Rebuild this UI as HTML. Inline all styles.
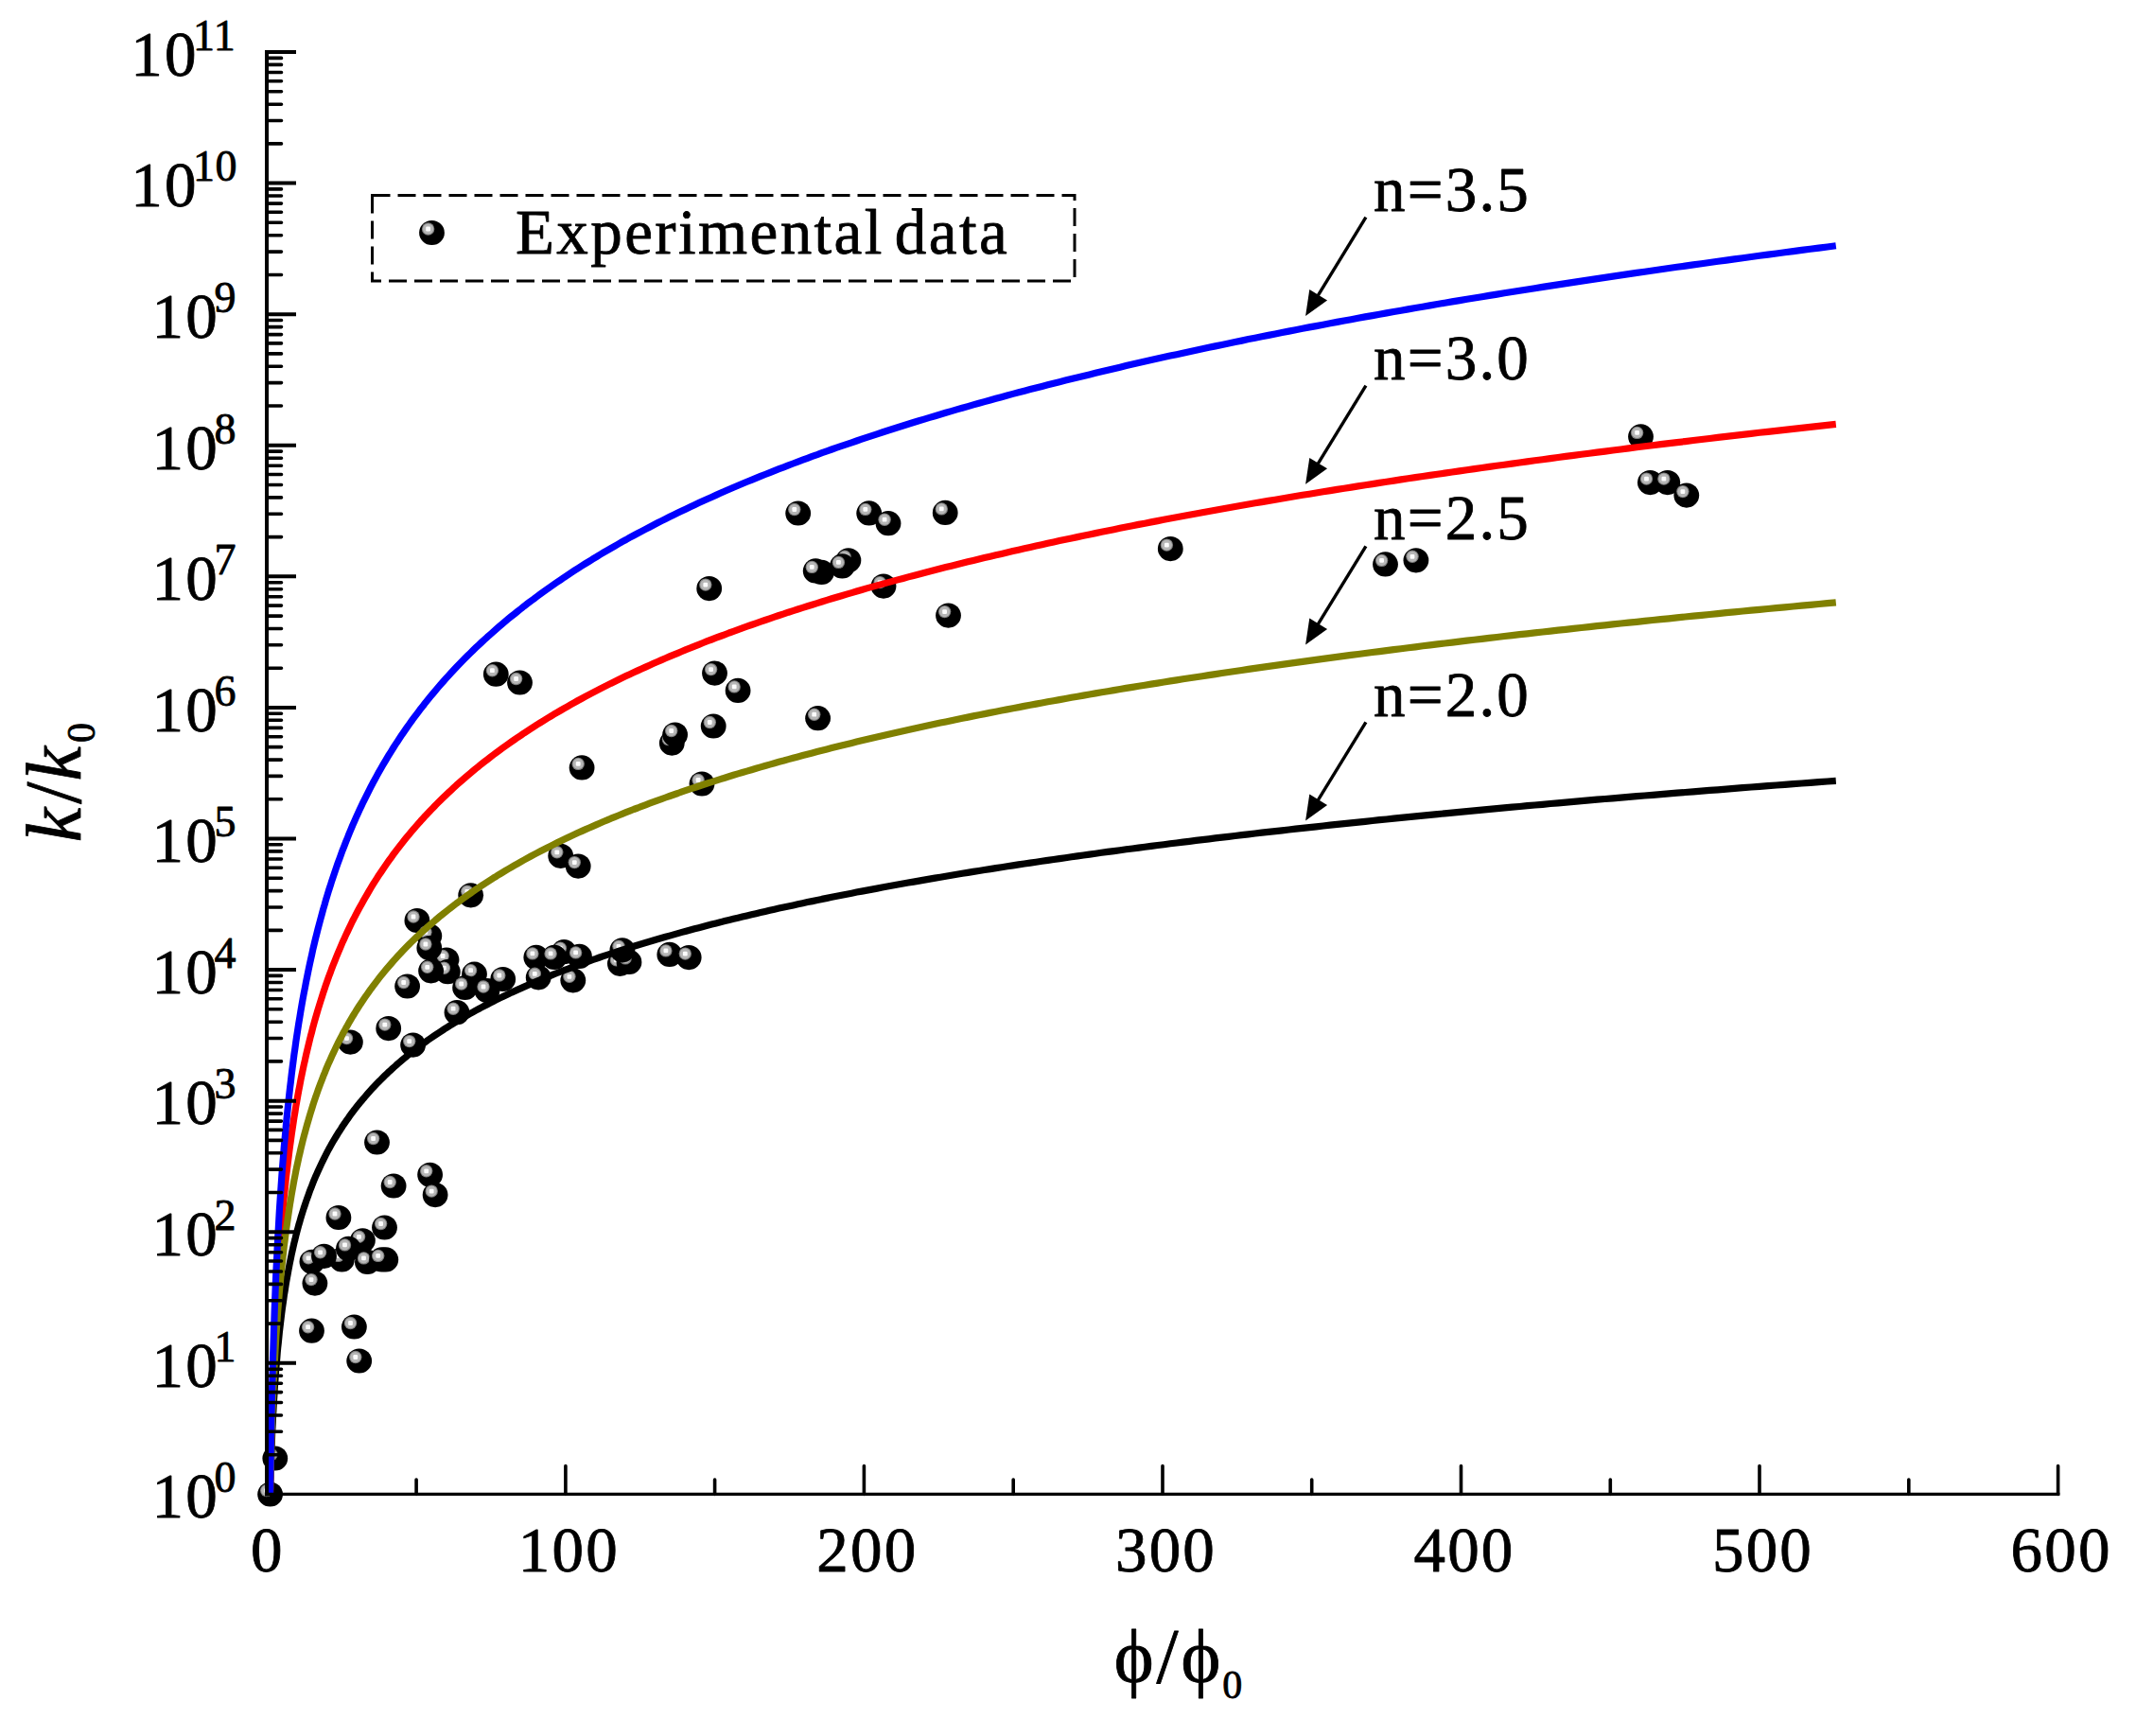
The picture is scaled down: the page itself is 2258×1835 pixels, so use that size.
<!DOCTYPE html>
<html><head><meta charset="utf-8"><title>k/k0 vs phi/phi0</title>
<style>
html,body{margin:0;padding:0;background:#fff;}
body{width:2258px;height:1835px;overflow:hidden;}
svg{display:block;}
text{font-family:"Liberation Serif","DejaVu Serif",serif;fill:#000;stroke:#000;stroke-width:0.8px;stroke-linejoin:round;}
.t{font-size:67px;letter-spacing:2.2px;}
.s{font-size:46px;letter-spacing:0.5px;}
.lab{font-size:83px;}
.sub{font-size:41.5px;}
</style></head><body>
<svg width="2258" height="1835" viewBox="0 0 2258 1835">
<defs>
<g id="b"><ellipse rx="13.4" ry="13.1" fill="#000"/><circle cx="-3.9" cy="-4" r="6.7" fill="#808080"/><circle cx="-3.9" cy="-4" r="5.6" fill="#b6b6b6"/><rect x="-6.3" y="-6.4" width="4.8" height="4.8" rx="1.2" fill="#fcfcfc"/></g>
<path id="ah" d="M0 0 L-26 -11 L-26 11 Z" fill="#000"/>
</defs>
<rect width="2258" height="1835" fill="#fff"/>

<g>
<use href="#b" x="398.5" y="1207.5"/>
<use href="#b" x="454.6" y="1241.8"/>
<use href="#b" x="416.1" y="1253.5"/>
<use href="#b" x="460.1" y="1263.1"/>
<use href="#b" x="357.9" y="1287.0"/>
<use href="#b" x="406.5" y="1297.5"/>
<use href="#b" x="361.4" y="1331.4"/>
<use href="#b" x="329.9" y="1333.8"/>
<use href="#b" x="342.5" y="1327.8"/>
<use href="#b" x="383.4" y="1311.3"/>
<use href="#b" x="368.4" y="1319.9"/>
<use href="#b" x="407.8" y="1331.4"/>
<use href="#b" x="388.4" y="1333.9"/>
<use href="#b" x="403.6" y="1331.4"/>
<use href="#b" x="332.9" y="1356.6"/>
<use href="#b" x="329.5" y="1406.7"/>
<use href="#b" x="374.4" y="1402.5"/>
<use href="#b" x="379.7" y="1438.5"/>
<use href="#b" x="290.8" y="1541.5"/>
<use href="#b" x="285.6" y="1579.5"/>
<use href="#b" x="497.7" y="946.3"/>
<use href="#b" x="440.9" y="973.0"/>
<use href="#b" x="453.8" y="989.3"/>
<use href="#b" x="472.0" y="1014.5"/>
<use href="#b" x="453.8" y="1002.0"/>
<use href="#b" x="473.3" y="1027.2"/>
<use href="#b" x="455.6" y="1026.3"/>
<use href="#b" x="501.5" y="1029.7"/>
<use href="#b" x="491.6" y="1044.0"/>
<use href="#b" x="514.9" y="1047.0"/>
<use href="#b" x="531.7" y="1035.0"/>
<use href="#b" x="430.6" y="1042.5"/>
<use href="#b" x="483.0" y="1070.2"/>
<use href="#b" x="410.7" y="1087.1"/>
<use href="#b" x="436.6" y="1104.6"/>
<use href="#b" x="370.4" y="1101.6"/>
<use href="#b" x="592.7" y="904.8"/>
<use href="#b" x="611.2" y="915.6"/>
<use href="#b" x="596.2" y="1006.2"/>
<use href="#b" x="566.8" y="1011.9"/>
<use href="#b" x="586.0" y="1011.9"/>
<use href="#b" x="612.5" y="1010.9"/>
<use href="#b" x="569.2" y="1033.3"/>
<use href="#b" x="605.8" y="1036.3"/>
<use href="#b" x="655.4" y="1018.8"/>
<use href="#b" x="665.0" y="1016.9"/>
<use href="#b" x="657.9" y="1004.3"/>
<use href="#b" x="707.8" y="1008.9"/>
<use href="#b" x="728.2" y="1012.1"/>
<use href="#b" x="524.3" y="712.7"/>
<use href="#b" x="549.5" y="721.5"/>
<use href="#b" x="755.5" y="711.6"/>
<use href="#b" x="780.1" y="729.9"/>
<use href="#b" x="754.2" y="767.5"/>
<use href="#b" x="710.3" y="785.6"/>
<use href="#b" x="713.6" y="776.5"/>
<use href="#b" x="615.1" y="811.4"/>
<use href="#b" x="742.0" y="828.5"/>
<use href="#b" x="843.7" y="542.5"/>
<use href="#b" x="918.7" y="542.4"/>
<use href="#b" x="939.0" y="553.2"/>
<use href="#b" x="999.2" y="541.9"/>
<use href="#b" x="868.5" y="604.9"/>
<use href="#b" x="862.2" y="603.4"/>
<use href="#b" x="896.9" y="592.3"/>
<use href="#b" x="890.3" y="598.4"/>
<use href="#b" x="934.0" y="619.6"/>
<use href="#b" x="1002.5" y="650.6"/>
<use href="#b" x="749.7" y="622.1"/>
<use href="#b" x="864.6" y="759.2"/>
<use href="#b" x="1237.3" y="580.1"/>
<use href="#b" x="1464.5" y="596.4"/>
<use href="#b" x="1496.9" y="592.3"/>
<use href="#b" x="1734.5" y="461.4"/>
<use href="#b" x="1744.4" y="510.1"/>
<use href="#b" x="1762.8" y="510.1"/>
<use href="#b" x="1782.8" y="523.6"/>
</g>
<path d="M285.5 1579.4 L285.5 1579.3 L285.5 1578.9 L285.5 1578.1 L285.5 1576.9 L285.6 1575.4 L285.6 1573.4 L285.7 1571.1 L285.8 1568.4 L285.8 1565.3 L286.0 1561.9 L286.1 1558.1 L286.2 1554.1 L286.3 1549.8 L286.5 1545.2 L286.7 1540.4 L286.8 1535.4 L287.0 1530.3 L287.3 1525.0 L287.5 1519.6 L287.7 1514.1 L288.0 1508.5 L288.3 1502.9 L288.5 1497.2 L288.9 1491.5 L289.2 1485.8 L289.5 1480.0 L289.9 1474.3 L290.2 1468.6 L290.6 1462.9 L291.0 1457.3 L291.4 1451.7 L291.8 1446.1 L292.3 1440.6 L292.8 1435.1 L293.2 1429.7 L293.7 1424.4 L294.3 1419.1 L294.8 1413.8 L295.3 1408.7 L295.9 1403.5 L296.5 1398.5 L297.1 1393.5 L297.7 1388.6 L298.3 1383.7 L299.0 1378.9 L299.7 1374.2 L300.3 1369.5 L301.1 1364.9 L301.8 1360.3 L302.5 1355.8 L303.3 1351.4 L304.1 1347.0 L304.9 1342.7 L305.7 1338.4 L306.5 1334.2 L307.4 1330.0 L308.2 1325.9 L309.1 1321.9 L310.0 1317.9 L310.9 1313.9 L311.9 1310.0 L312.8 1306.1 L313.8 1302.3 L314.8 1298.6 L315.8 1294.9 L316.9 1291.2 L317.9 1287.6 L319.0 1284.0 L320.1 1280.5 L321.2 1277.0 L322.4 1273.5 L323.5 1270.1 L324.7 1266.7 L325.9 1263.4 L327.1 1260.1 L328.3 1256.8 L329.6 1253.6 L330.8 1250.4 L332.1 1247.2 L333.4 1244.1 L334.8 1241.0 L336.1 1238.0 L337.5 1234.9 L338.9 1231.9 L340.3 1229.0 L341.7 1226.1 L343.2 1223.2 L344.6 1220.3 L346.1 1217.4 L347.6 1214.6 L349.2 1211.8 L350.7 1209.1 L352.3 1206.3 L353.9 1203.6 L355.5 1201.0 L357.1 1198.3 L358.8 1195.7 L360.5 1193.1 L362.1 1190.5 L363.9 1187.9 L365.6 1185.4 L367.4 1182.9 L369.1 1180.4 L370.9 1177.9 L372.7 1175.5 L374.6 1173.1 L376.4 1170.7 L378.3 1168.3 L380.2 1165.9 L382.2 1163.6 L384.1 1161.3 L386.1 1159.0 L388.1 1156.7 L390.1 1154.4 L392.1 1152.2 L394.1 1149.9 L396.2 1147.7 L398.3 1145.5 L400.4 1143.4 L402.6 1141.2 L404.7 1139.1 L406.9 1136.9 L409.1 1134.8 L411.3 1132.7 L413.6 1130.7 L415.8 1128.6 L418.1 1126.6 L420.4 1124.5 L422.8 1122.5 L425.1 1120.5 L427.5 1118.5 L429.9 1116.6 L432.3 1114.6 L434.7 1112.7 L437.2 1110.7 L439.7 1108.8 L442.2 1106.9 L444.7 1105.0 L447.3 1103.2 L449.8 1101.3 L452.4 1099.4 L455.0 1097.6 L457.7 1095.8 L460.3 1094.0 L463.0 1092.2 L465.7 1090.4 L468.5 1088.6 L471.2 1086.8 L474.0 1085.1 L476.8 1083.3 L479.6 1081.6 L482.4 1079.9 L485.3 1078.2 L488.2 1076.5 L491.1 1074.8 L494.0 1073.1 L497.0 1071.4 L499.9 1069.8 L502.9 1068.1 L506.0 1066.5 L509.0 1064.9 L512.1 1063.3 L515.2 1061.7 L518.3 1060.1 L521.4 1058.5 L524.6 1056.9 L527.7 1055.3 L531.0 1053.8 L534.2 1052.2 L537.4 1050.7 L540.7 1049.1 L544.0 1047.6 L547.3 1046.1 L550.7 1044.6 L554.0 1043.1 L557.4 1041.6 L560.8 1040.1 L564.3 1038.6 L567.7 1037.2 L571.2 1035.7 L574.7 1034.3 L578.2 1032.8 L581.8 1031.4 L585.3 1029.9 L588.9 1028.5 L592.6 1027.1 L596.2 1025.7 L599.9 1024.3 L603.6 1022.9 L607.3 1021.5 L611.0 1020.2 L614.8 1018.8 L618.6 1017.4 L622.4 1016.1 L626.2 1014.7 L630.1 1013.4 L633.9 1012.0 L637.8 1010.7 L641.8 1009.4 L645.7 1008.1 L649.7 1006.8 L653.7 1005.5 L657.7 1004.2 L661.8 1002.9 L665.8 1001.6 L669.9 1000.3 L674.1 999.0 L678.2 997.8 L682.4 996.5 L686.6 995.3 L690.8 994.0 L695.0 992.8 L699.3 991.5 L703.6 990.3 L707.9 989.1 L712.2 987.9 L716.6 986.6 L720.9 985.4 L725.3 984.2 L729.8 983.0 L734.2 981.8 L738.7 980.7 L743.2 979.5 L747.7 978.3 L752.3 977.1 L756.9 976.0 L761.5 974.8 L766.1 973.6 L770.7 972.5 L775.4 971.3 L780.1 970.2 L784.8 969.1 L789.6 967.9 L794.4 966.8 L799.2 965.7 L804.0 964.6 L808.8 963.5 L813.7 962.3 L818.6 961.2 L823.5 960.1 L828.5 959.0 L833.4 958.0 L838.4 956.9 L843.4 955.8 L848.5 954.7 L853.6 953.6 L858.6 952.6 L863.8 951.5 L868.9 950.4 L874.1 949.4 L879.3 948.3 L884.5 947.3 L889.7 946.2 L895.0 945.2 L900.3 944.2 L905.6 943.1 L910.9 942.1 L916.3 941.1 L921.7 940.1 L927.1 939.1 L932.6 938.0 L938.0 937.0 L943.5 936.0 L949.0 935.0 L954.6 934.0 L960.1 933.0 L965.7 932.1 L971.4 931.1 L977.0 930.1 L982.7 929.1 L988.4 928.1 L994.1 927.2 L999.8 926.2 L1005.6 925.2 L1011.4 924.3 L1017.2 923.3 L1023.1 922.4 L1028.9 921.4 L1034.8 920.5 L1040.7 919.5 L1046.7 918.6 L1052.7 917.6 L1058.7 916.7 L1064.7 915.8 L1070.7 914.9 L1076.8 913.9 L1082.9 913.0 L1089.0 912.1 L1095.2 911.2 L1101.4 910.3 L1107.6 909.4 L1113.8 908.5 L1120.0 907.6 L1126.3 906.7 L1132.6 905.8 L1139.0 904.9 L1145.3 904.0 L1151.7 903.1 L1158.1 902.2 L1164.5 901.3 L1171.0 900.4 L1177.5 899.6 L1184.0 898.7 L1190.5 897.8 L1197.1 897.0 L1203.7 896.1 L1210.3 895.2 L1216.9 894.4 L1223.6 893.5 L1230.3 892.7 L1237.0 891.8 L1243.8 891.0 L1250.5 890.1 L1257.3 889.3 L1264.2 888.4 L1271.0 887.6 L1277.9 886.8 L1284.8 885.9 L1291.7 885.1 L1298.7 884.3 L1305.6 883.5 L1312.6 882.6 L1319.7 881.8 L1326.7 881.0 L1333.8 880.2 L1340.9 879.4 L1348.1 878.6 L1355.2 877.8 L1362.4 877.0 L1369.6 876.2 L1376.9 875.4 L1384.1 874.6 L1391.4 873.8 L1398.7 873.0 L1406.1 872.2 L1413.5 871.4 L1420.9 870.6 L1428.3 869.8 L1435.7 869.1 L1443.2 868.3 L1450.7 867.5 L1458.3 866.7 L1465.8 866.0 L1473.4 865.2 L1481.0 864.4 L1488.6 863.7 L1496.3 862.9 L1504.0 862.1 L1511.7 861.4 L1519.5 860.6 L1527.2 859.9 L1535.0 859.1 L1542.8 858.4 L1550.7 857.6 L1558.6 856.9 L1566.5 856.1 L1574.4 855.4 L1582.4 854.7 L1590.3 853.9 L1598.4 853.2 L1606.4 852.5 L1614.5 851.7 L1622.5 851.0 L1630.7 850.3 L1638.8 849.5 L1647.0 848.8 L1655.2 848.1 L1663.4 847.4 L1671.6 846.7 L1679.9 845.9 L1688.2 845.2 L1696.6 844.5 L1704.9 843.8 L1713.3 843.1 L1721.7 842.4 L1730.2 841.7 L1738.6 841.0 L1747.1 840.3 L1755.6 839.6 L1764.2 838.9 L1772.8 838.2 L1781.4 837.5 L1790.0 836.8 L1798.6 836.1 L1807.3 835.4 L1816.0 834.8 L1824.8 834.1 L1833.5 833.4 L1842.3 832.7 L1851.1 832.0 L1860.0 831.4 L1868.9 830.7 L1877.8 830.0 L1886.7 829.3 L1895.6 828.7 L1904.6 828.0 L1913.6 827.3 L1922.7 826.7 L1931.7 826.0 L1940.8 825.3" fill="none" stroke="#000" stroke-width="7.2" stroke-linejoin="round"/>
<path d="M285.5 1579.4 L285.5 1579.2 L285.5 1578.6 L285.5 1577.4 L285.5 1575.7 L285.6 1573.3 L285.6 1570.4 L285.7 1566.9 L285.8 1562.9 L285.8 1558.2 L286.0 1553.1 L286.1 1547.5 L286.2 1541.4 L286.3 1534.9 L286.5 1528.1 L286.7 1520.9 L286.8 1513.4 L287.0 1505.7 L287.3 1497.8 L287.5 1489.7 L287.7 1481.4 L288.0 1473.1 L288.3 1464.6 L288.5 1456.1 L288.9 1447.5 L289.2 1438.9 L289.5 1430.4 L289.9 1421.8 L290.2 1413.2 L290.6 1404.7 L291.0 1396.2 L291.4 1387.8 L291.8 1379.5 L292.3 1371.2 L292.8 1363.0 L293.2 1354.9 L293.7 1346.9 L294.3 1338.9 L294.8 1331.1 L295.3 1323.3 L295.9 1315.6 L296.5 1308.0 L297.1 1300.6 L297.7 1293.2 L298.3 1285.9 L299.0 1278.7 L299.7 1271.6 L300.3 1264.5 L301.1 1257.6 L301.8 1250.8 L302.5 1244.0 L303.3 1237.4 L304.1 1230.8 L304.9 1224.3 L305.7 1217.9 L306.5 1211.6 L307.4 1205.3 L308.2 1199.2 L309.1 1193.1 L310.0 1187.1 L310.9 1181.2 L311.9 1175.3 L312.8 1169.5 L313.8 1163.8 L314.8 1158.2 L315.8 1152.6 L316.9 1147.1 L317.9 1141.7 L319.0 1136.3 L320.1 1131.0 L321.2 1125.7 L322.4 1120.6 L323.5 1115.4 L324.7 1110.4 L325.9 1105.4 L327.1 1100.4 L328.3 1095.5 L329.6 1090.7 L330.8 1085.9 L332.1 1081.1 L333.4 1076.5 L334.8 1071.8 L336.1 1067.2 L337.5 1062.7 L338.9 1058.2 L340.3 1053.8 L341.7 1049.4 L343.2 1045.0 L344.6 1040.7 L346.1 1036.5 L347.6 1032.2 L349.2 1028.1 L350.7 1023.9 L352.3 1019.8 L353.9 1015.8 L355.5 1011.7 L357.1 1007.8 L358.8 1003.8 L360.5 999.9 L362.1 996.0 L363.9 992.2 L365.6 988.4 L367.4 984.6 L369.1 980.9 L370.9 977.2 L372.7 973.5 L374.6 969.9 L376.4 966.3 L378.3 962.7 L380.2 959.2 L382.2 955.7 L384.1 952.2 L386.1 948.7 L388.1 945.3 L390.1 941.9 L392.1 938.5 L394.1 935.2 L396.2 931.9 L398.3 928.6 L400.4 925.3 L402.6 922.1 L404.7 918.9 L406.9 915.7 L409.1 912.5 L411.3 909.4 L413.6 906.3 L415.8 903.2 L418.1 900.1 L420.4 897.1 L422.8 894.1 L425.1 891.1 L427.5 888.1 L429.9 885.1 L432.3 882.2 L434.7 879.3 L437.2 876.4 L439.7 873.5 L442.2 870.7 L444.7 867.8 L447.3 865.0 L449.8 862.2 L452.4 859.5 L455.0 856.7 L457.7 854.0 L460.3 851.2 L463.0 848.5 L465.7 845.9 L468.5 843.2 L471.2 840.6 L474.0 837.9 L476.8 835.3 L479.6 832.7 L482.4 830.1 L485.3 827.6 L488.2 825.0 L491.1 822.5 L494.0 820.0 L497.0 817.5 L499.9 815.0 L502.9 812.5 L506.0 810.1 L509.0 807.6 L512.1 805.2 L515.2 802.8 L518.3 800.4 L521.4 798.0 L524.6 795.6 L527.7 793.3 L531.0 790.9 L534.2 788.6 L537.4 786.3 L540.7 784.0 L544.0 781.7 L547.3 779.4 L550.7 777.2 L554.0 774.9 L557.4 772.7 L560.8 770.5 L564.3 768.2 L567.7 766.0 L571.2 763.9 L574.7 761.7 L578.2 759.5 L581.8 757.4 L585.3 755.2 L588.9 753.1 L592.6 751.0 L596.2 748.9 L599.9 746.8 L603.6 744.7 L607.3 742.6 L611.0 740.5 L614.8 738.5 L618.6 736.4 L622.4 734.4 L626.2 732.4 L630.1 730.4 L633.9 728.4 L637.8 726.4 L641.8 724.4 L645.7 722.4 L649.7 720.5 L653.7 718.5 L657.7 716.6 L661.8 714.6 L665.8 712.7 L669.9 710.8 L674.1 708.9 L678.2 707.0 L682.4 705.1 L686.6 703.2 L690.8 701.3 L695.0 699.5 L699.3 697.6 L703.6 695.8 L707.9 693.9 L712.2 692.1 L716.6 690.3 L720.9 688.5 L725.3 686.6 L729.8 684.9 L734.2 683.1 L738.7 681.3 L743.2 679.5 L747.7 677.7 L752.3 676.0 L756.9 674.2 L761.5 672.5 L766.1 670.8 L770.7 669.0 L775.4 667.3 L780.1 665.6 L784.8 663.9 L789.6 662.2 L794.4 660.5 L799.2 658.8 L804.0 657.1 L808.8 655.5 L813.7 653.8 L818.6 652.2 L823.5 650.5 L828.5 648.9 L833.4 647.2 L838.4 645.6 L843.4 644.0 L848.5 642.4 L853.6 640.8 L858.6 639.2 L863.8 637.6 L868.9 636.0 L874.1 634.4 L879.3 632.8 L884.5 631.2 L889.7 629.7 L895.0 628.1 L900.3 626.6 L905.6 625.0 L910.9 623.5 L916.3 621.9 L921.7 620.4 L927.1 618.9 L932.6 617.4 L938.0 615.9 L943.5 614.4 L949.0 612.9 L954.6 611.4 L960.1 609.9 L965.7 608.4 L971.4 606.9 L977.0 605.4 L982.7 604.0 L988.4 602.5 L994.1 601.0 L999.8 599.6 L1005.6 598.2 L1011.4 596.7 L1017.2 595.3 L1023.1 593.8 L1028.9 592.4 L1034.8 591.0 L1040.7 589.6 L1046.7 588.2 L1052.7 586.8 L1058.7 585.4 L1064.7 584.0 L1070.7 582.6 L1076.8 581.2 L1082.9 579.8 L1089.0 578.4 L1095.2 577.1 L1101.4 575.7 L1107.6 574.3 L1113.8 573.0 L1120.0 571.6 L1126.3 570.3 L1132.6 568.9 L1139.0 567.6 L1145.3 566.3 L1151.7 564.9 L1158.1 563.6 L1164.5 562.3 L1171.0 561.0 L1177.5 559.7 L1184.0 558.3 L1190.5 557.0 L1197.1 555.7 L1203.7 554.4 L1210.3 553.2 L1216.9 551.9 L1223.6 550.6 L1230.3 549.3 L1237.0 548.0 L1243.8 546.8 L1250.5 545.5 L1257.3 544.2 L1264.2 543.0 L1271.0 541.7 L1277.9 540.5 L1284.8 539.2 L1291.7 538.0 L1298.7 536.7 L1305.6 535.5 L1312.6 534.3 L1319.7 533.0 L1326.7 531.8 L1333.8 530.6 L1340.9 529.4 L1348.1 528.2 L1355.2 527.0 L1362.4 525.7 L1369.6 524.5 L1376.9 523.3 L1384.1 522.2 L1391.4 521.0 L1398.7 519.8 L1406.1 518.6 L1413.5 517.4 L1420.9 516.2 L1428.3 515.1 L1435.7 513.9 L1443.2 512.7 L1450.7 511.6 L1458.3 510.4 L1465.8 509.2 L1473.4 508.1 L1481.0 506.9 L1488.6 505.8 L1496.3 504.6 L1504.0 503.5 L1511.7 502.4 L1519.5 501.2 L1527.2 500.1 L1535.0 499.0 L1542.8 497.9 L1550.7 496.7 L1558.6 495.6 L1566.5 494.5 L1574.4 493.4 L1582.4 492.3 L1590.3 491.2 L1598.4 490.1 L1606.4 489.0 L1614.5 487.9 L1622.5 486.8 L1630.7 485.7 L1638.8 484.6 L1647.0 483.5 L1655.2 482.4 L1663.4 481.4 L1671.6 480.3 L1679.9 479.2 L1688.2 478.1 L1696.6 477.1 L1704.9 476.0 L1713.3 475.0 L1721.7 473.9 L1730.2 472.8 L1738.6 471.8 L1747.1 470.7 L1755.6 469.7 L1764.2 468.6 L1772.8 467.6 L1781.4 466.6 L1790.0 465.5 L1798.6 464.5 L1807.3 463.5 L1816.0 462.4 L1824.8 461.4 L1833.5 460.4 L1842.3 459.4 L1851.1 458.4 L1860.0 457.3 L1868.9 456.3 L1877.8 455.3 L1886.7 454.3 L1895.6 453.3 L1904.6 452.3 L1913.6 451.3 L1922.7 450.3 L1931.7 449.3 L1940.8 448.3" fill="none" stroke="#f00" stroke-width="7.2" stroke-linejoin="round"/>
<path d="M285.5 1579.4 L285.5 1579.3 L285.5 1578.7 L285.5 1577.7 L285.5 1576.3 L285.6 1574.4 L285.6 1571.9 L285.7 1569.0 L285.8 1565.6 L285.8 1561.8 L286.0 1557.5 L286.1 1552.8 L286.2 1547.7 L286.3 1542.3 L286.5 1536.6 L286.7 1530.7 L286.8 1524.4 L287.0 1518.0 L287.3 1511.4 L287.5 1504.6 L287.7 1497.8 L288.0 1490.8 L288.3 1483.7 L288.5 1476.6 L288.9 1469.5 L289.2 1462.4 L289.5 1455.2 L289.9 1448.0 L290.2 1440.9 L290.6 1433.8 L291.0 1426.8 L291.4 1419.8 L291.8 1412.8 L292.3 1405.9 L292.8 1399.1 L293.2 1392.3 L293.7 1385.6 L294.3 1379.0 L294.8 1372.5 L295.3 1366.0 L295.9 1359.6 L296.5 1353.3 L297.1 1347.0 L297.7 1340.9 L298.3 1334.8 L299.0 1328.8 L299.7 1322.9 L300.3 1317.0 L301.1 1311.2 L301.8 1305.5 L302.5 1299.9 L303.3 1294.4 L304.1 1288.9 L304.9 1283.5 L305.7 1278.1 L306.5 1272.9 L307.4 1267.7 L308.2 1262.5 L309.1 1257.5 L310.0 1252.5 L310.9 1247.5 L311.9 1242.6 L312.8 1237.8 L313.8 1233.1 L314.8 1228.4 L315.8 1223.7 L316.9 1219.1 L317.9 1214.6 L319.0 1210.1 L320.1 1205.7 L321.2 1201.3 L322.4 1197.0 L323.5 1192.8 L324.7 1188.5 L325.9 1184.4 L327.1 1180.2 L328.3 1176.2 L329.6 1172.1 L330.8 1168.1 L332.1 1164.2 L333.4 1160.3 L334.8 1156.4 L336.1 1152.6 L337.5 1148.8 L338.9 1145.1 L340.3 1141.4 L341.7 1137.7 L343.2 1134.1 L344.6 1130.5 L346.1 1126.9 L347.6 1123.4 L349.2 1119.9 L350.7 1116.5 L352.3 1113.1 L353.9 1109.7 L355.5 1106.3 L357.1 1103.0 L358.8 1099.7 L360.5 1096.5 L362.1 1093.3 L363.9 1090.1 L365.6 1086.9 L367.4 1083.8 L369.1 1080.6 L370.9 1077.6 L372.7 1074.5 L374.6 1071.5 L376.4 1068.5 L378.3 1065.5 L380.2 1062.5 L382.2 1059.6 L384.1 1056.7 L386.1 1053.8 L388.1 1051.0 L390.1 1048.2 L392.1 1045.3 L394.1 1042.6 L396.2 1039.8 L398.3 1037.1 L400.4 1034.3 L402.6 1031.6 L404.7 1029.0 L406.9 1026.3 L409.1 1023.7 L411.3 1021.1 L413.6 1018.5 L415.8 1015.9 L418.1 1013.3 L420.4 1010.8 L422.8 1008.3 L425.1 1005.8 L427.5 1003.3 L429.9 1000.8 L432.3 998.4 L434.7 996.0 L437.2 993.6 L439.7 991.2 L442.2 988.8 L444.7 986.4 L447.3 984.1 L449.8 981.8 L452.4 979.4 L455.0 977.2 L457.7 974.9 L460.3 972.6 L463.0 970.4 L465.7 968.1 L468.5 965.9 L471.2 963.7 L474.0 961.5 L476.8 959.3 L479.6 957.2 L482.4 955.0 L485.3 952.9 L488.2 950.7 L491.1 948.6 L494.0 946.5 L497.0 944.5 L499.9 942.4 L502.9 940.3 L506.0 938.3 L509.0 936.3 L512.1 934.2 L515.2 932.2 L518.3 930.2 L521.4 928.2 L524.6 926.3 L527.7 924.3 L531.0 922.3 L534.2 920.4 L537.4 918.5 L540.7 916.6 L544.0 914.7 L547.3 912.8 L550.7 910.9 L554.0 909.0 L557.4 907.1 L560.8 905.3 L564.3 903.4 L567.7 901.6 L571.2 899.8 L574.7 898.0 L578.2 896.2 L581.8 894.4 L585.3 892.6 L588.9 890.8 L592.6 889.0 L596.2 887.3 L599.9 885.5 L603.6 883.8 L607.3 882.1 L611.0 880.3 L614.8 878.6 L618.6 876.9 L622.4 875.2 L626.2 873.6 L630.1 871.9 L633.9 870.2 L637.8 868.5 L641.8 866.9 L645.7 865.2 L649.7 863.6 L653.7 862.0 L657.7 860.4 L661.8 858.7 L665.8 857.1 L669.9 855.5 L674.1 854.0 L678.2 852.4 L682.4 850.8 L686.6 849.2 L690.8 847.7 L695.0 846.1 L699.3 844.6 L703.6 843.0 L707.9 841.5 L712.2 840.0 L716.6 838.5 L720.9 836.9 L725.3 835.4 L729.8 833.9 L734.2 832.5 L738.7 831.0 L743.2 829.5 L747.7 828.0 L752.3 826.6 L756.9 825.1 L761.5 823.6 L766.1 822.2 L770.7 820.8 L775.4 819.3 L780.1 817.9 L784.8 816.5 L789.6 815.1 L794.4 813.7 L799.2 812.3 L804.0 810.9 L808.8 809.5 L813.7 808.1 L818.6 806.7 L823.5 805.3 L828.5 804.0 L833.4 802.6 L838.4 801.2 L843.4 799.9 L848.5 798.5 L853.6 797.2 L858.6 795.9 L863.8 794.5 L868.9 793.2 L874.1 791.9 L879.3 790.6 L884.5 789.3 L889.7 788.0 L895.0 786.7 L900.3 785.4 L905.6 784.1 L910.9 782.8 L916.3 781.5 L921.7 780.2 L927.1 779.0 L932.6 777.7 L938.0 776.4 L943.5 775.2 L949.0 773.9 L954.6 772.7 L960.1 771.5 L965.7 770.2 L971.4 769.0 L977.0 767.8 L982.7 766.5 L988.4 765.3 L994.1 764.1 L999.8 762.9 L1005.6 761.7 L1011.4 760.5 L1017.2 759.3 L1023.1 758.1 L1028.9 756.9 L1034.8 755.7 L1040.7 754.6 L1046.7 753.4 L1052.7 752.2 L1058.7 751.0 L1064.7 749.9 L1070.7 748.7 L1076.8 747.6 L1082.9 746.4 L1089.0 745.3 L1095.2 744.1 L1101.4 743.0 L1107.6 741.8 L1113.8 740.7 L1120.0 739.6 L1126.3 738.5 L1132.6 737.3 L1139.0 736.2 L1145.3 735.1 L1151.7 734.0 L1158.1 732.9 L1164.5 731.8 L1171.0 730.7 L1177.5 729.6 L1184.0 728.5 L1190.5 727.4 L1197.1 726.4 L1203.7 725.3 L1210.3 724.2 L1216.9 723.1 L1223.6 722.1 L1230.3 721.0 L1237.0 719.9 L1243.8 718.9 L1250.5 717.8 L1257.3 716.8 L1264.2 715.7 L1271.0 714.7 L1277.9 713.6 L1284.8 712.6 L1291.7 711.5 L1298.7 710.5 L1305.6 709.5 L1312.6 708.5 L1319.7 707.4 L1326.7 706.4 L1333.8 705.4 L1340.9 704.4 L1348.1 703.4 L1355.2 702.4 L1362.4 701.4 L1369.6 700.4 L1376.9 699.4 L1384.1 698.4 L1391.4 697.4 L1398.7 696.4 L1406.1 695.4 L1413.5 694.4 L1420.9 693.4 L1428.3 692.4 L1435.7 691.5 L1443.2 690.5 L1450.7 689.5 L1458.3 688.6 L1465.8 687.6 L1473.4 686.6 L1481.0 685.7 L1488.6 684.7 L1496.3 683.8 L1504.0 682.8 L1511.7 681.9 L1519.5 680.9 L1527.2 680.0 L1535.0 679.1 L1542.8 678.1 L1550.7 677.2 L1558.6 676.2 L1566.5 675.3 L1574.4 674.4 L1582.4 673.5 L1590.3 672.5 L1598.4 671.6 L1606.4 670.7 L1614.5 669.8 L1622.5 668.9 L1630.7 668.0 L1638.8 667.1 L1647.0 666.2 L1655.2 665.3 L1663.4 664.4 L1671.6 663.5 L1679.9 662.6 L1688.2 661.7 L1696.6 660.8 L1704.9 659.9 L1713.3 659.0 L1721.7 658.1 L1730.2 657.3 L1738.6 656.4 L1747.1 655.5 L1755.6 654.6 L1764.2 653.8 L1772.8 652.9 L1781.4 652.0 L1790.0 651.2 L1798.6 650.3 L1807.3 649.5 L1816.0 648.6 L1824.8 647.7 L1833.5 646.9 L1842.3 646.0 L1851.1 645.2 L1860.0 644.3 L1868.9 643.5 L1877.8 642.7 L1886.7 641.8 L1895.6 641.0 L1904.6 640.1 L1913.6 639.3 L1922.7 638.5 L1931.7 637.7 L1940.8 636.8" fill="none" stroke="#808000" stroke-width="7.2" stroke-linejoin="round"/>
<path d="M285.5 1579.4 L285.5 1579.2 L285.5 1578.4 L285.5 1577.1 L285.5 1575.0 L285.6 1572.3 L285.6 1568.9 L285.7 1564.8 L285.8 1560.1 L285.8 1554.7 L286.0 1548.7 L286.1 1542.2 L286.2 1535.1 L286.3 1527.5 L286.5 1519.5 L286.7 1511.2 L286.8 1502.5 L287.0 1493.5 L287.3 1484.2 L287.5 1474.7 L287.7 1465.1 L288.0 1455.4 L288.3 1445.5 L288.5 1435.5 L288.9 1425.5 L289.2 1415.5 L289.5 1405.5 L289.9 1395.5 L290.2 1385.5 L290.6 1375.6 L291.0 1365.7 L291.4 1355.9 L291.8 1346.2 L292.3 1336.5 L292.8 1327.0 L293.2 1317.5 L293.7 1308.1 L294.3 1298.8 L294.8 1289.7 L295.3 1280.6 L295.9 1271.7 L296.5 1262.8 L297.1 1254.1 L297.7 1245.5 L298.3 1236.9 L299.0 1228.5 L299.7 1220.2 L300.3 1212.1 L301.1 1204.0 L301.8 1196.0 L302.5 1188.1 L303.3 1180.3 L304.1 1172.7 L304.9 1165.1 L305.7 1157.6 L306.5 1150.3 L307.4 1143.0 L308.2 1135.8 L309.1 1128.7 L310.0 1121.7 L310.9 1114.8 L311.9 1107.9 L312.8 1101.2 L313.8 1094.5 L314.8 1088.0 L315.8 1081.5 L316.9 1075.0 L317.9 1068.7 L319.0 1062.4 L320.1 1056.2 L321.2 1050.1 L322.4 1044.1 L323.5 1038.1 L324.7 1032.2 L325.9 1026.3 L327.1 1020.6 L328.3 1014.9 L329.6 1009.2 L330.8 1003.6 L332.1 998.1 L333.4 992.6 L334.8 987.2 L336.1 981.9 L337.5 976.6 L338.9 971.4 L340.3 966.2 L341.7 961.0 L343.2 956.0 L344.6 950.9 L346.1 946.0 L347.6 941.0 L349.2 936.2 L350.7 931.3 L352.3 926.6 L353.9 921.8 L355.5 917.1 L357.1 912.5 L358.8 907.9 L360.5 903.3 L362.1 898.8 L363.9 894.3 L365.6 889.9 L367.4 885.5 L369.1 881.1 L370.9 876.8 L372.7 872.5 L374.6 868.3 L376.4 864.1 L378.3 859.9 L380.2 855.8 L382.2 851.7 L384.1 847.6 L386.1 843.6 L388.1 839.6 L390.1 835.7 L392.1 831.7 L394.1 827.8 L396.2 824.0 L398.3 820.1 L400.4 816.3 L402.6 812.5 L404.7 808.8 L406.9 805.1 L409.1 801.4 L411.3 797.7 L413.6 794.1 L415.8 790.5 L418.1 786.9 L420.4 783.4 L422.8 779.8 L425.1 776.3 L427.5 772.9 L429.9 769.4 L432.3 766.0 L434.7 762.6 L437.2 759.2 L439.7 755.9 L442.2 752.6 L444.7 749.2 L447.3 746.0 L449.8 742.7 L452.4 739.5 L455.0 736.3 L457.7 733.1 L460.3 729.9 L463.0 726.7 L465.7 723.6 L468.5 720.5 L471.2 717.4 L474.0 714.3 L476.8 711.3 L479.6 708.3 L482.4 705.3 L485.3 702.3 L488.2 699.3 L491.1 696.3 L494.0 693.4 L497.0 690.5 L499.9 687.6 L502.9 684.7 L506.0 681.8 L509.0 679.0 L512.1 676.2 L515.2 673.3 L518.3 670.6 L521.4 667.8 L524.6 665.0 L527.7 662.3 L531.0 659.5 L534.2 656.8 L537.4 654.1 L540.7 651.4 L544.0 648.8 L547.3 646.1 L550.7 643.5 L554.0 640.8 L557.4 638.2 L560.8 635.6 L564.3 633.1 L567.7 630.5 L571.2 627.9 L574.7 625.4 L578.2 622.9 L581.8 620.4 L585.3 617.9 L588.9 615.4 L592.6 612.9 L596.2 610.4 L599.9 608.0 L603.6 605.6 L607.3 603.1 L611.0 600.7 L614.8 598.3 L618.6 595.9 L622.4 593.6 L626.2 591.2 L630.1 588.9 L633.9 586.5 L637.8 584.2 L641.8 581.9 L645.7 579.6 L649.7 577.3 L653.7 575.0 L657.7 572.7 L661.8 570.5 L665.8 568.2 L669.9 566.0 L674.1 563.8 L678.2 561.6 L682.4 559.4 L686.6 557.2 L690.8 555.0 L695.0 552.8 L699.3 550.6 L703.6 548.5 L707.9 546.3 L712.2 544.2 L716.6 542.1 L720.9 540.0 L725.3 537.9 L729.8 535.8 L734.2 533.7 L738.7 531.6 L743.2 529.5 L747.7 527.5 L752.3 525.4 L756.9 523.4 L761.5 521.3 L766.1 519.3 L770.7 517.3 L775.4 515.3 L780.1 513.3 L784.8 511.3 L789.6 509.3 L794.4 507.4 L799.2 505.4 L804.0 503.4 L808.8 501.5 L813.7 499.6 L818.6 497.6 L823.5 495.7 L828.5 493.8 L833.4 491.9 L838.4 490.0 L843.4 488.1 L848.5 486.2 L853.6 484.3 L858.6 482.4 L863.8 480.6 L868.9 478.7 L874.1 476.9 L879.3 475.0 L884.5 473.2 L889.7 471.4 L895.0 469.6 L900.3 467.8 L905.6 466.0 L910.9 464.2 L916.3 462.4 L921.7 460.6 L927.1 458.8 L932.6 457.0 L938.0 455.3 L943.5 453.5 L949.0 451.8 L954.6 450.0 L960.1 448.3 L965.7 446.5 L971.4 444.8 L977.0 443.1 L982.7 441.4 L988.4 439.7 L994.1 438.0 L999.8 436.3 L1005.6 434.6 L1011.4 432.9 L1017.2 431.3 L1023.1 429.6 L1028.9 427.9 L1034.8 426.3 L1040.7 424.6 L1046.7 423.0 L1052.7 421.3 L1058.7 419.7 L1064.7 418.1 L1070.7 416.4 L1076.8 414.8 L1082.9 413.2 L1089.0 411.6 L1095.2 410.0 L1101.4 408.4 L1107.6 406.8 L1113.8 405.2 L1120.0 403.7 L1126.3 402.1 L1132.6 400.5 L1139.0 399.0 L1145.3 397.4 L1151.7 395.9 L1158.1 394.3 L1164.5 392.8 L1171.0 391.2 L1177.5 389.7 L1184.0 388.2 L1190.5 386.6 L1197.1 385.1 L1203.7 383.6 L1210.3 382.1 L1216.9 380.6 L1223.6 379.1 L1230.3 377.6 L1237.0 376.1 L1243.8 374.7 L1250.5 373.2 L1257.3 371.7 L1264.2 370.2 L1271.0 368.8 L1277.9 367.3 L1284.8 365.9 L1291.7 364.4 L1298.7 363.0 L1305.6 361.5 L1312.6 360.1 L1319.7 358.6 L1326.7 357.2 L1333.8 355.8 L1340.9 354.4 L1348.1 353.0 L1355.2 351.5 L1362.4 350.1 L1369.6 348.7 L1376.9 347.3 L1384.1 345.9 L1391.4 344.6 L1398.7 343.2 L1406.1 341.8 L1413.5 340.4 L1420.9 339.0 L1428.3 337.7 L1435.7 336.3 L1443.2 334.9 L1450.7 333.6 L1458.3 332.2 L1465.8 330.9 L1473.4 329.5 L1481.0 328.2 L1488.6 326.9 L1496.3 325.5 L1504.0 324.2 L1511.7 322.9 L1519.5 321.5 L1527.2 320.2 L1535.0 318.9 L1542.8 317.6 L1550.7 316.3 L1558.6 315.0 L1566.5 313.7 L1574.4 312.4 L1582.4 311.1 L1590.3 309.8 L1598.4 308.5 L1606.4 307.2 L1614.5 306.0 L1622.5 304.7 L1630.7 303.4 L1638.8 302.1 L1647.0 300.9 L1655.2 299.6 L1663.4 298.4 L1671.6 297.1 L1679.9 295.9 L1688.2 294.6 L1696.6 293.4 L1704.9 292.1 L1713.3 290.9 L1721.7 289.6 L1730.2 288.4 L1738.6 287.2 L1747.1 286.0 L1755.6 284.7 L1764.2 283.5 L1772.8 282.3 L1781.4 281.1 L1790.0 279.9 L1798.6 278.7 L1807.3 277.5 L1816.0 276.3 L1824.8 275.1 L1833.5 273.9 L1842.3 272.7 L1851.1 271.5 L1860.0 270.3 L1868.9 269.1 L1877.8 268.0 L1886.7 266.8 L1895.6 265.6 L1904.6 264.4 L1913.6 263.3 L1922.7 262.1 L1931.7 261.0 L1940.8 259.8" fill="none" stroke="#00f" stroke-width="7.2" stroke-linejoin="round"/>
<g stroke="#000" stroke-width="4" fill="none">
<path d="M282 53 V1581.4"/>
<path stroke-width="3.3" d="M280 1579.4 H2177.4"/>
<path d="M282 1440.8 H313 M282 1302.2 H313 M282 1163.7 H313 M282 1025.1 H313 M282 886.5 H313 M282 747.9 H313 M282 609.3 H313 M282 470.8 H313 M282 332.2 H313 M282 193.6 H313 M282 55.0 H313"/>
<path stroke-linecap="round" stroke-width="3.6" d="M282 1537.7 H297.5 M282 1513.3 H297.5 M282 1496.0 H297.5 M282 1482.5 H297.5 M282 1471.6 H297.5 M282 1462.3 H297.5 M282 1454.2 H297.5 M282 1447.2 H297.5 M282 1399.1 H297.5 M282 1374.7 H297.5 M282 1357.4 H297.5 M282 1344.0 H297.5 M282 1333.0 H297.5 M282 1323.7 H297.5 M282 1315.7 H297.5 M282 1308.6 H297.5 M282 1260.5 H297.5 M282 1236.1 H297.5 M282 1218.8 H297.5 M282 1205.4 H297.5 M282 1194.4 H297.5 M282 1185.1 H297.5 M282 1177.1 H297.5 M282 1170.0 H297.5 M282 1121.9 H297.5 M282 1097.5 H297.5 M282 1080.2 H297.5 M282 1066.8 H297.5 M282 1055.8 H297.5 M282 1046.5 H297.5 M282 1038.5 H297.5 M282 1031.4 H297.5 M282 983.4 H297.5 M282 959.0 H297.5 M282 941.6 H297.5 M282 928.2 H297.5 M282 917.2 H297.5 M282 908.0 H297.5 M282 899.9 H297.5 M282 892.8 H297.5 M282 844.8 H297.5 M282 820.4 H297.5 M282 803.1 H297.5 M282 789.6 H297.5 M282 778.7 H297.5 M282 769.4 H297.5 M282 761.3 H297.5 M282 754.3 H297.5 M282 706.2 H297.5 M282 681.8 H297.5 M282 664.5 H297.5 M282 651.1 H297.5 M282 640.1 H297.5 M282 630.8 H297.5 M282 622.8 H297.5 M282 615.7 H297.5 M282 567.6 H297.5 M282 543.2 H297.5 M282 525.9 H297.5 M282 512.5 H297.5 M282 501.5 H297.5 M282 492.2 H297.5 M282 484.2 H297.5 M282 477.1 H297.5 M282 429.0 H297.5 M282 404.6 H297.5 M282 387.3 H297.5 M282 373.9 H297.5 M282 362.9 H297.5 M282 353.6 H297.5 M282 345.6 H297.5 M282 338.5 H297.5 M282 290.5 H297.5 M282 266.1 H297.5 M282 248.7 H297.5 M282 235.3 H297.5 M282 224.3 H297.5 M282 215.1 H297.5 M282 207.0 H297.5 M282 199.9 H297.5 M282 151.9 H297.5 M282 127.5 H297.5 M282 110.2 H297.5 M282 96.7 H297.5 M282 85.8 H297.5 M282 76.5 H297.5 M282 68.4 H297.5 M282 61.4 H297.5"/>
<path stroke-linecap="round" stroke-width="3.6" d="M597.9 1579.4 V1549.5 M913.4 1579.4 V1549.5 M1229.0 1579.4 V1549.5 M1544.5 1579.4 V1549.5 M1860.0 1579.4 V1549.5 M2175.6 1579.4 V1549.5"/>
<path stroke-linecap="round" stroke-width="3.6" d="M440.1 1579.4 V1564 M755.6 1579.4 V1564 M1071.2 1579.4 V1564 M1386.7 1579.4 V1564 M1702.3 1579.4 V1564 M2017.8 1579.4 V1564"/>
</g>
<text class="t" x="160.6" y="1604.1">10</text><text class="s" x="226.4" y="1577.1">0</text>
<text class="t" x="160.6" y="1465.5">10</text><text class="s" x="226.4" y="1438.5">1</text>
<text class="t" x="160.6" y="1326.9">10</text><text class="s" x="226.4" y="1299.9">2</text>
<text class="t" x="160.6" y="1188.4">10</text><text class="s" x="226.4" y="1161.4">3</text>
<text class="t" x="160.6" y="1049.8">10</text><text class="s" x="226.4" y="1022.8">4</text>
<text class="t" x="160.6" y="911.2">10</text><text class="s" x="226.4" y="884.2">5</text>
<text class="t" x="160.6" y="772.6">10</text><text class="s" x="226.4" y="745.6">6</text>
<text class="t" x="160.6" y="634.0">10</text><text class="s" x="226.4" y="607.0">7</text>
<text class="t" x="160.6" y="495.5">10</text><text class="s" x="226.4" y="468.5">8</text>
<text class="t" x="160.6" y="356.9">10</text><text class="s" x="226.4" y="329.9">9</text>
<text class="t" x="138.2" y="218.3">10</text><text class="s" x="204.0" y="191.3">10</text>
<text class="t" x="138.2" y="79.7">10</text><text class="s" x="204.0" y="52.7">11</text>
<text class="t" text-anchor="middle" x="282.9" y="1661">0</text>
<text class="t" text-anchor="middle" x="601.4" y="1661">100</text>
<text class="t" text-anchor="middle" x="916.9" y="1661">200</text>
<text class="t" text-anchor="middle" x="1232.5" y="1661">300</text>
<text class="t" text-anchor="middle" x="1548.0" y="1661">400</text>
<text class="t" text-anchor="middle" x="1863.5" y="1661">500</text>
<text class="t" text-anchor="middle" x="2179.1" y="1661">600</text>
<rect x="393.5" y="206.5" width="742.5" height="90.5" fill="none" stroke="#000" stroke-width="3" stroke-dasharray="19 8"/>
<use href="#b" x="456.5" y="246"/>
<text class="t" x="545" y="268" style="letter-spacing:2.4px;word-spacing:-8px">Experimental data</text>
<text class="t" x="1452" y="223.0">n=3.5</text>
<path d="M1443.9 229.7 L1390.5 316.8" stroke="#000" stroke-width="3.4" fill="none"/>
<use href="#ah" transform="translate(1380.1 333.9) rotate(121.48)"/>
<text class="t" x="1452" y="400.6">n=3.0</text>
<path d="M1443.9 407.6 L1390.5 494.7" stroke="#000" stroke-width="3.4" fill="none"/>
<use href="#ah" transform="translate(1380.1 511.8) rotate(121.48)"/>
<text class="t" x="1452" y="569.8">n=2.5</text>
<path d="M1443.9 577.3 L1390.5 664.4" stroke="#000" stroke-width="3.4" fill="none"/>
<use href="#ah" transform="translate(1380.1 681.5) rotate(121.48)"/>
<text class="t" x="1452" y="757.0">n=2.0</text>
<path d="M1443.9 763.3 L1390.5 850.4" stroke="#000" stroke-width="3.4" fill="none"/>
<use href="#ah" transform="translate(1380.1 867.5) rotate(121.48)"/>
<text y="1778.3"><tspan x="1177.8" font-size="79.5">ϕ</tspan><tspan x="1222.4" font-size="83">/</tspan><tspan x="1248.6" font-size="79.5">ϕ</tspan><tspan x="1292.2" dy="16.8" font-size="42">0</tspan></text>
<g transform="translate(85 890.2) rotate(-90)"><text><tspan x="0" font-size="82" font-style="italic">k</tspan><tspan x="40.5" font-size="84">/</tspan><tspan x="64.7" font-size="82" font-style="italic">k</tspan><tspan x="105.1" dy="14.6" font-size="42">0</tspan></text></g>
</svg></body></html>
